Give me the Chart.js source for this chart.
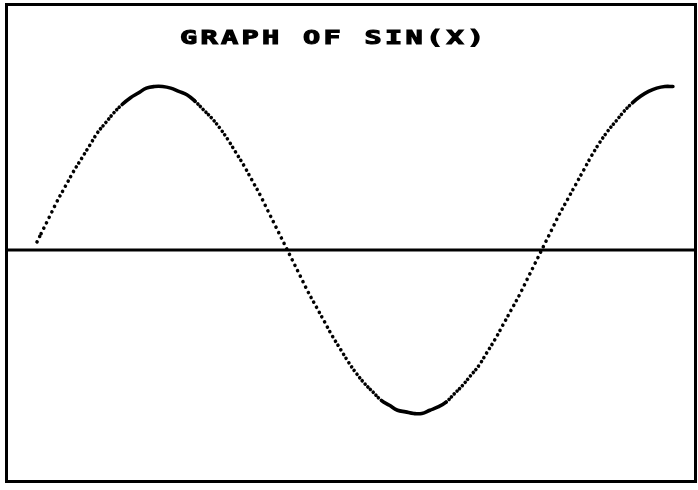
<!DOCTYPE html>
<html>
<head>
<meta charset="utf-8">
<script src="https://cdn.jsdelivr.net/npm/chart.js@4/dist/chart.umd.min.js"></script>
<style>
  html, body { margin: 0; padding: 0; background: #fff; }
  #wrap { position: relative; width: 698px; height: 490px; }
</style>
</head>
<body>
<div id="wrap"><canvas id="c" width="698" height="490"></canvas></div>
<script>
// ---- data ----
const chartTitle = "GRAPH OF SIN(X)";
const xValues = [0.05, 0.1, 0.2, 0.3, 0.4, 0.5, 0.6, 0.7, 0.8, 0.9,
  1.0, 1.1, 1.2, 1.3, 1.4, 1.5, 1.6, 1.7, 1.8, 1.9,
  2.0, 2.1, 2.2, 2.3, 2.4, 2.5, 2.6, 2.7, 2.8, 2.9,
  3.0, 3.1, 3.2, 3.3, 3.4, 3.5, 3.6, 3.7, 3.8, 3.9,
  4.0, 4.1, 4.2, 4.3, 4.4, 4.5, 4.6, 4.7, 4.8, 4.9,
  5.0, 5.1, 5.2, 5.3, 5.4, 5.5, 5.6, 5.7, 5.8, 5.9,
  6.0, 6.1, 6.2, 6.3, 6.4, 6.5, 6.6, 6.7, 6.8, 6.9,
  7.0, 7.1, 7.2, 7.3, 7.4, 7.5, 7.6, 7.7, 7.8, 7.9];
const sinValues = [0.05, 0.10, 0.20, 0.30, 0.39, 0.48, 0.56, 0.64, 0.72, 0.78,
  0.84, 0.89, 0.93, 0.96, 0.99, 1.00, 1.00, 0.99, 0.97, 0.95,
  0.91, 0.86, 0.81, 0.75, 0.68, 0.60, 0.52, 0.43, 0.34, 0.24,
  0.14, 0.04, -0.06, -0.16, -0.26, -0.35, -0.44, -0.53, -0.61, -0.69,
  -0.76, -0.82, -0.87, -0.92, -0.95, -0.98, -0.99, -1.00, -1.00, -0.98,
  -0.96, -0.93, -0.88, -0.83, -0.77, -0.71, -0.63, -0.55, -0.46, -0.37,
  -0.28, -0.18, -0.08, 0.02, 0.12, 0.22, 0.31, 0.40, 0.49, 0.58,
  0.66, 0.73, 0.79, 0.85, 0.90, 0.94, 0.97, 0.99, 1.00, 1.00];

const points = xValues.map((x, i) => ({ x: x, y: sinValues[i] }));

// frame, zero axis line and the title
const framePlugin = {
  id: 'frame',
  afterDraw(chart) {
    const ctx = chart.ctx;
    const area = chart.chartArea;
    ctx.save();
    ctx.strokeStyle = '#000';
    ctx.lineWidth = 3;
    ctx.strokeRect(area.left + 0.5, area.top + 0.5, area.right - area.left, area.bottom - area.top);
    // horizontal axis at y = 0
    const y0 = chart.scales.y.getPixelForValue(0);
    ctx.lineWidth = 2.8;
    ctx.beginPath();
    ctx.moveTo(area.left, y0);
    ctx.lineTo(area.right, y0);
    ctx.stroke();
    // title
    ctx.fillStyle = '#000';
    ctx.font = 'bold 20px "DejaVu Sans Mono"';
    ctx.textBaseline = 'alphabetic';
    ctx.textAlign = 'left';
    try { ctx.letterSpacing = '2.3px'; } catch (e) {}
    ctx.translate(180, 43.5);
    ctx.scale(1.43, 1);
    ctx.lineWidth = 1.1;
    ctx.lineJoin = 'miter';
    ctx.fillText(chartTitle, 0, 0);
    ctx.strokeText(chartTitle, 0, 0);
    ctx.restore();
  }
};

new Chart(document.getElementById('c'), {
  type: 'line',
  data: {
    datasets: [{
      data: points,
      borderColor: '#000',
      borderWidth: 3.6,
      borderCapStyle: 'round',
      pointRadius: 0,
      tension: 0.4,
      fill: false,
      segment: {
        borderDash: (c) => {
          const dx = Math.abs(c.p1.x - c.p0.x) || 1;
          const dy = c.p1.y - c.p0.y;
          const period = 2.7 * Math.sqrt(dx * dx + dy * dy) / dx;
          return period < 3.6 ? undefined : [0.01, period];
        }
      }
    }]
  },
  options: {
    responsive: false,
    animation: false,
    layout: { padding: { left: 6, top: 4, right: 3, bottom: 9 } },
    plugins: { legend: { display: false }, tooltip: { enabled: false }, title: { display: false } },
    scales: {
      x: { type: 'linear', display: false, min: -0.3333, max: 8.1728 },
      y: { type: 'linear', display: false, min: -1.4128, max: 1.5046 }
    }
  },
  plugins: [framePlugin]
});
</script>
</body>
</html>
